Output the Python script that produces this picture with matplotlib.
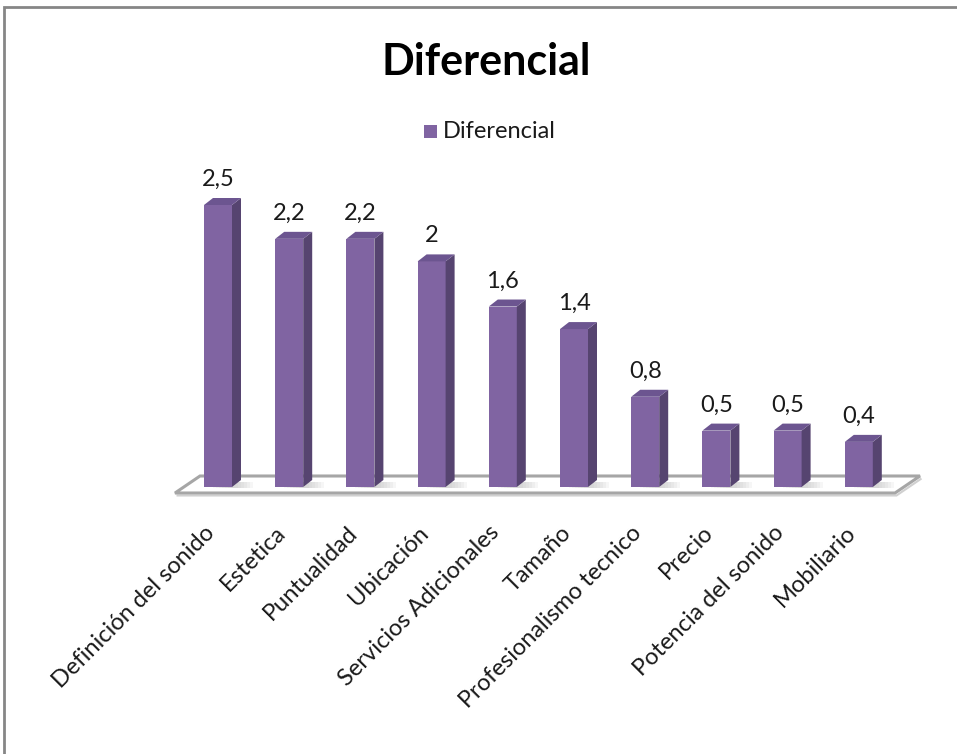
import numpy as np
import matplotlib.pyplot as plt
from matplotlib.patches import Polygon, Rectangle

plt.rcParams['font.family'] = ['Lato', 'DejaVu Sans']

categorias = ['Definición del sonido', 'Estetica', 'Puntualidad', 'Ubicación',
              'Servicios Adicionales', 'Tamaño', 'Profesionalismo tecnico',
              'Precio', 'Potencia del sonido', 'Mobiliario']
valores = [2.5, 2.2, 2.2, 2.0, 1.6, 1.4, 0.8, 0.5, 0.5, 0.4]
etiquetas = ['2,5', '2,2', '2,2', '2', '1,6', '1,4', '0,8', '0,5', '0,5', '0,4']
serie = 'Diferencial'

W, H = 957, 754
fig = plt.figure(figsize=(W / 100, H / 100), dpi=100)
fig.patch.set_facecolor('white')

# pixel layout of the plot: first bar centre, bar spacing, base line, px per unit
x0, paso, base, escala = 218.0, 71.2, 487.0, 112.8
ax = fig.add_axes([0, 0, 1, 1])
ax.set_xlim(-x0 / paso, (W - x0) / paso)
ax.set_ylim((base - H) / escala, base / escala)
ax.axis('off')

frente = '#8064a2'
lado = '#564470'
tapa = '#6c5590'
ancho = 28 / paso
dx, dy = 9 / paso, 7 / escala

# floor plate
n = len(valores)
fx0, fx1 = (175 - x0) / paso, (895 - x0) / paso
fy = (base - 493) / escala
px_, py_ = 25 / paso, 17 / escala
piso = Polygon([(fx0, fy), (fx1, fy), (fx1 + px_, fy + py_), (fx0 + px_, fy + py_)],
               closed=True, facecolor='white', edgecolor='#a6a6a6', lw=2.2, zorder=1)
ax.add_patch(piso)
sombra = Polygon([(fx0 + 1.5 / paso, fy - 2.5 / escala), (fx1 + 1.5 / paso, fy - 2.5 / escala),
                  (fx1 + px_ + 1.5 / paso, fy + py_ - 2.5 / escala)],
                 closed=False, fill=False, edgecolor='#d0d0d0', lw=1.5, zorder=0.9)
ax.add_patch(sombra)

x = np.arange(n)
# soft shadows on the floor behind each bar
for xi in x:
    for k in range(6):
        ax.add_patch(Rectangle((xi - ancho / 2 + dx + k * 3 / paso, -0.5 / escala),
                               ancho * 0.9, 6 / escala, facecolor='#b0b0b0',
                               alpha=0.10, lw=0, zorder=1.5))

ax.bar(x, valores, width=ancho, color=frente, edgecolor='none', zorder=3)
for xi, v in zip(x, valores):
    r = xi + ancho / 2
    l = xi - ancho / 2
    ax.add_patch(Polygon([(r, 0), (r + dx, dy), (r + dx, v + dy), (r, v)],
                         closed=True, facecolor=lado, edgecolor='none', zorder=3))
    ax.add_patch(Polygon([(l, v), (r, v), (r + dx, v + dy), (l + dx, v + dy)],
                         closed=True, facecolor=tapa, edgecolor='none', zorder=3))

for xi, v, t in zip(x, valores, etiquetas):
    ax.annotate(t, (xi, v), xytext=(0, 15), textcoords='offset pixels',
                ha='center', va='bottom', fontsize=17, color='#1a1a1a')

for xi, c in zip(x, categorias):
    ax.text(xi - 14 / paso, (base - 522) / escala, c, rotation=45, rotation_mode='anchor',
            ha='right', va='top', fontsize=17, color='#1a1a1a')

fig.text(486 / W, 1 - 62 / H, serie, ha='center', va='center',
         fontsize=31, fontweight='bold', color='black')

# legend
fig.patches.append(Rectangle((424 / W, 1 - 138 / H), 13 / W, 13 / H,
                             transform=fig.transFigure, facecolor=frente, edgecolor='none'))
fig.text(443 / W, 1 - 131 / H, serie, ha='left', va='center', fontsize=17, color='#1a1a1a')

# chart border
fig.patches.append(Rectangle((4 / W, -0.1), 1.2, 1 - 7 / H + 0.1, transform=fig.transFigure,
                             fill=False, edgecolor='#868686', lw=2))

fig.savefig('out.png', dpi=100)
